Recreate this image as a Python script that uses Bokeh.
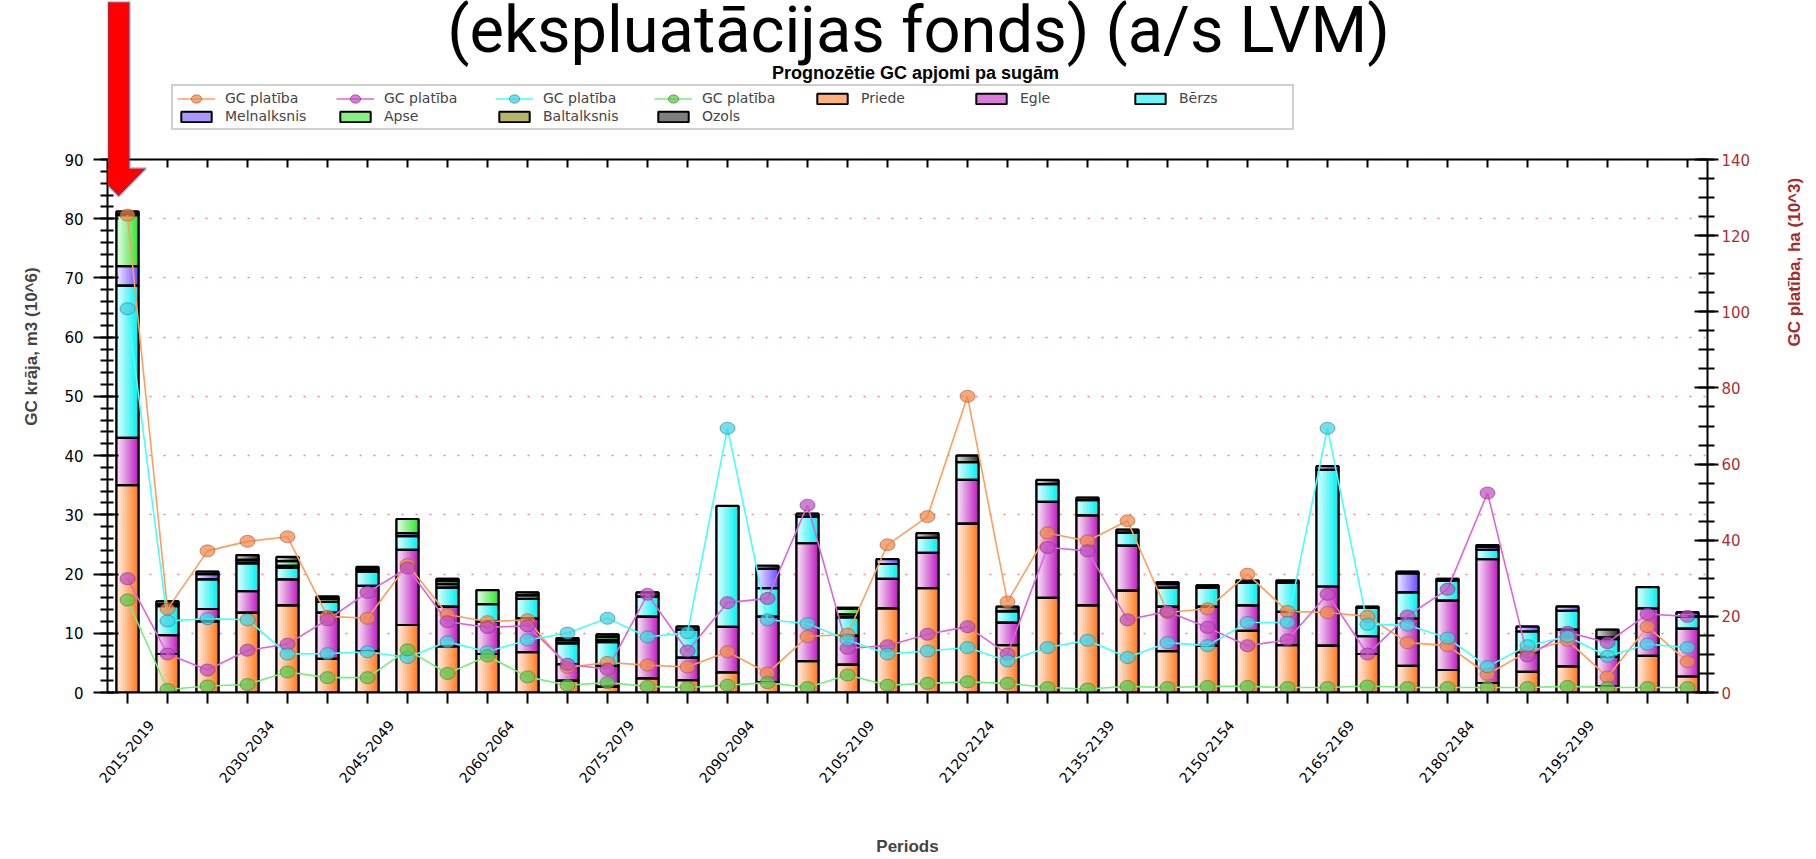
import math
import numpy as np
import pandas as pd
from bokeh.plotting import figure
from bokeh.models import (ColumnDataSource, Range1d, LinearAxis, SingleIntervalTicker,
                          FixedTicker, Legend, LegendItem, Label, PolyAnnotation)
from bokeh.transform import dodge
from bokeh.core.properties import value
from bokeh.embed import file_html
from bokeh.resources import INLINE

# ---------------- data ----------------
periods = [
    "2015-2019", "2020-2024", "2025-2029", "2030-2034", "2035-2039",
    "2040-2044", "2045-2049", "2050-2054", "2055-2059", "2060-2064",
    "2065-2069", "2070-2074", "2075-2079", "2080-2084", "2085-2089",
    "2090-2094", "2095-2099", "2100-2104", "2105-2109", "2110-2114",
    "2115-2119", "2120-2124", "2125-2129", "2130-2134", "2135-2139",
    "2140-2144", "2145-2149", "2150-2154", "2155-2159", "2160-2164",
    "2165-2169", "2170-2174", "2175-2179", "2180-2184", "2185-2189",
    "2190-2194", "2195-2199", "2200-2204", "2205-2209", "2210-2214",
]
shown_labels = ["2015-2019", "2030-2034", "2045-2049", "2060-2064", "2075-2079",
                "2090-2094", "2105-2109", "2120-2124", "2135-2139", "2150-2154",
                "2165-2169", "2180-2184", "2195-2199", "2210-2214"]

# GC krāja, m3 (10^6) by species
priede = [35.0, 6.5, 12.0, 13.5, 14.7, 5.7, 7.0, 11.4, 7.8, 6.5,
          6.8, 2.0, 1.0, 2.4, 2.1, 3.4, 1.7, 5.3, 4.7, 14.2,
          17.6, 28.5, 8.0, 16.0, 14.7, 17.2, 7.0, 7.9, 10.4, 8.0,
          7.9, 6.5, 4.5, 3.8, 1.6, 3.5, 4.4, 1.1, 6.2, 2.7]
egle = [8.0, 3.2, 2.1, 3.6, 4.4, 7.8, 11.0, 12.7, 6.7, 5.5,
        5.7, 2.8, 3.5, 10.4, 3.8, 7.7, 11.1, 19.9, 4.9, 5.0,
        6.0, 7.4, 3.8, 16.2, 15.2, 7.6, 7.5, 6.6, 4.3, 5.6,
        10.0, 3.0, 8.0, 11.7, 20.9, 3.3, 6.2, 4.9, 8.0, 8.1]
berzs = [25.7, 4.9, 5.0, 4.7, 2.0, 1.8, 2.4, 2.3, 3.2, 2.9,
         3.3, 3.5, 4.0, 3.4, 4.7, 20.4, 4.8, 4.5, 3.1, 2.5,
         2.5, 3.0, 1.9, 3.0, 2.6, 2.2, 3.2, 3.2, 3.8, 4.9,
         19.7, 4.8, 4.4, 3.4, 1.6, 3.5, 3.2, 3.0, 3.6, 2.0]
melnalksnis = [3.3, 0.3, 0.9, 0.5, 0.3, 0.0, 0.0, 0.5, 0.6, 0.0,
               0.0, 0.5, 0.4, 0.0, 0.5, 0.0, 3.3, 0.0, 0.5, 0.8,
               0.0, 0.0, 0.0, 0.0, 0.0, 0.0, 0.6, 0.0, 0.0, 0.0,
               0.6, 0.0, 3.2, 0.0, 0.5, 0.8, 0.7, 0.3, 0.0, 0.7]
apse = [8.6, 0.0, 0.0, 0.0, 0.8, 0.5, 0.4, 2.4, 0.5, 2.4,
        0.6, 0.0, 0.5, 0.0, 0.0, 0.0, 0.0, 0.0, 0.9, 0.0,
        0.0, 0.0, 0.0, 0.0, 0.0, 0.0, 0.0, 0.0, 0.0, 0.0,
        0.0, 0.0, 0.0, 0.0, 0.0, 0.0, 0.0, 0.0, 0.0, 0.0]
baltalksnis = [0.2, 0.0, 0.0, 0.1, 0.0, 0.0, 0.0, 0.0, 0.0, 0.0,
               0.0, 0.0, 0.0, 0.0, 0.0, 0.0, 0.0, 0.0, 0.0, 0.0,
               0.0, 0.0, 0.0, 0.0, 0.0, 0.0, 0.0, 0.0, 0.0, 0.0,
               0.0, 0.0, 0.0, 0.0, 0.0, 0.0, 0.0, 0.0, 0.0, 0.0]
ozols = [0.4, 0.5, 0.4, 0.8, 0.7, 0.4, 0.4, 0.0, 0.4, 0.0,
         0.5, 0.4, 0.4, 0.7, 0.0, 0.0, 0.5, 0.5, 0.2, 0.0,
         0.8, 1.1, 0.8, 0.7, 0.4, 0.5, 0.3, 0.4, 0.4, 0.4,
         0.0, 0.2, 0.3, 0.3, 0.3, 0.0, 0.0, 1.3, 0.0, 0.0]

# GC platība, ha (10^3)
platiba_priede = [125.4, 21.9, 37.2, 39.7, 40.9, 20.0, 19.5, 33.6, 20.5, 18.6,
                  19.1, 6.6, 7.9, 7.2, 6.7, 10.7, 5.1, 14.7, 15.3, 38.8,
                  46.2, 77.8, 23.8, 41.9, 39.8, 45.1, 21.0, 22.0, 31.1, 21.3,
                  21.0, 20.0, 13.1, 12.3, 4.8, 10.7, 13.7, 4.1, 17.3, 8.1]
platiba_egle = [29.9, 10.1, 5.9, 11.1, 12.7, 19.1, 26.3, 32.7, 18.6, 17.1,
                17.5, 7.4, 6.1, 25.8, 10.9, 23.6, 24.7, 49.2, 11.6, 12.3,
                15.3, 17.3, 10.1, 38.1, 37.2, 19.1, 21.3, 17.1, 12.3, 13.8,
                25.8, 10.1, 20.1, 27.1, 52.4, 9.6, 15.8, 13.1, 20.6, 20.0]
platiba_berzs = [100.8, 18.8, 19.4, 19.1, 10.1, 10.2, 10.7, 9.2, 13.3, 10.7,
                 13.8, 15.6, 19.5, 14.6, 15.7, 69.4, 19.1, 18.1, 13.8, 10.1,
                 10.9, 11.8, 8.3, 11.8, 13.7, 9.2, 13.1, 12.3, 18.4, 18.4,
                 69.4, 17.9, 17.7, 14.3, 6.8, 12.3, 14.7, 9.5, 12.7, 11.8]
platiba_apse = [24.3, 0.8, 1.7, 2.1, 5.4, 3.9, 3.9, 11.2, 5.0, 9.6,
                4.1, 1.9, 2.6, 1.6, 1.3, 1.9, 2.6, 1.3, 4.6, 1.9,
                2.4, 2.8, 2.4, 1.3, 0.9, 1.6, 1.3, 1.6, 1.6, 1.3,
                1.3, 1.7, 1.3, 1.3, 1.3, 1.3, 1.6, 1.3, 1.3, 1.3]

species = ["Priede", "Egle", "Bērzs", "Melnalksnis", "Apse", "Baltalksnis", "Ozols"]
species_values = [priede, egle, berzs, melnalksnis, apse, baltalksnis, ozols]

# ---------------- styles ----------------
GRAD = {  # (left/light, right/saturated)
    "Priede": ("#fff5ee", "#ff7a1e"),
    "Egle": ("#fcf0fc", "#c01cc0"),
    "Bērzs": ("#eaffff", "#00f0f0"),
    "Melnalksnis": ("#f4f2ff", "#6f4cff"),
    "Apse": ("#efffef", "#2ee62e"),
    "Baltalksnis": ("#fffff2", "#767600"),
    "Ozols": ("#e6e6e6", "#2a2a2a"),
}
N_STRIPS = 10
BAR_W = 0.55
FONT = "DejaVu Sans"
TFONT = "Liberation Sans"

W, H = 1816, 859
FRAME_L, FRAME_R, FRAME_B = 107, 103, 167    # borders (px)
FRAME_H = H - FRAME_B                         # frame spans the full height above the x axis
AXIS_TOP_PX = 159                             # where the chart's top border sits (px from top)
LEFT_MAX, RIGHT_MAX = 90, 140
scale_up = FRAME_H / (FRAME_H - AXIS_TOP_PX)


def _rgb(h):
    return tuple(int(h[i:i + 2], 16) for i in (1, 3, 5))


def mix(a, b, t):
    ra, rb = _rgb(a), _rgb(b)
    return "#%02x%02x%02x" % tuple(int(round(x + (y - x) * t)) for x, y in zip(ra, rb))


# category slot of each period on a numeric axis (centre of slot i is i + 0.5)
slot = {per: i + 0.5 for i, per in enumerate(periods)}

rows = []
cum = np.zeros(len(periods))
for name, vals in zip(species, species_values):
    v = np.array(vals, dtype=float)
    lo, hi = GRAD[name]
    for i, per in enumerate(periods):
        r = dict(period=per, x=slot[per], species=name, bottom=cum[i], top=cum[i] + v[i],
                 val=v[i], mid=mix(lo, hi, 0.55))
        for k in range(N_STRIPS):
            r[f"c{k}"] = mix(lo, hi, (k + 0.5) / N_STRIPS)
        rows.append(r)
    cum = cum + v
df = pd.DataFrame(rows)
src_all = ColumnDataSource(df)
src_nz = ColumnDataSource(df[df["val"] > 0].reset_index(drop=True))

lines_src = ColumnDataSource(dict(period=periods, x=[slot[s] for s in periods],
                                  priede=platiba_priede, egle=platiba_egle,
                                  berzs=platiba_berzs, apse=platiba_apse))

# ---------------- figure ----------------
p = figure(width=W, height=H, x_range=Range1d(0, len(periods)),
           y_range=Range1d(0, LEFT_MAX * scale_up),
           output_backend="svg", toolbar_location=None, title=None,
           min_border_left=FRAME_L, min_border_right=FRAME_R, min_border_top=0,
           min_border_bottom=FRAME_B, background_fill_color="white", border_fill_color="white")
p.extra_y_ranges = {"ha": Range1d(0, RIGHT_MAX * scale_up)}
p.extra_x_ranges = {"lab": Range1d(-1.1, len(periods) - 1.1)}
p.outline_line_color = None

# grid
p.xgrid.grid_line_color = None
p.ygrid.grid_line_color = "#d98c8c"
p.ygrid.grid_line_dash = "2 12"
p.ygrid.grid_line_width = 1.5
p.ygrid.bounds = (0, LEFT_MAX)

# left axis
ya = p.yaxis[0]
ya.ticker = SingleIntervalTicker(interval=10, num_minor_ticks=5)
ya.bounds = (0, LEFT_MAX)
ya.axis_label = "GC krāja, m3 (10^6)"
ya.axis_label_text_font = TFONT
ya.axis_label_text_font_size = "17px"
ya.axis_label_text_font_style = "bold"
ya.axis_label_standoff = 20
ya.major_label_text_font = FONT
ya.major_label_text_font_size = "15px"
ya.major_label_text_color = "black"
ya.major_label_standoff = 10
ya.major_tick_in = 11
ya.major_tick_out = 14
ya.minor_tick_in = 6
ya.minor_tick_out = 7
ya.axis_line_width = 2
ya.major_tick_line_width = 2
ya.minor_tick_line_width = 2

# right axis
ra = LinearAxis(y_range_name="ha", ticker=SingleIntervalTicker(interval=20, num_minor_ticks=4),
                bounds=(0, RIGHT_MAX))
ra.axis_label = "GC platība, ha (10^3)"
ra.axis_label_orientation = math.pi / 2
ra.axis_label_text_font = TFONT
ra.axis_label_text_font_size = "17px"
ra.axis_label_text_font_style = "bold"
ra.axis_label_text_color = "#a52a2a"
ra.axis_label_standoff = 41
ra.major_label_text_font = FONT
ra.major_label_text_font_size = "15px"
ra.major_label_text_color = "#a83232"
ra.major_label_standoff = 3
ra.major_tick_in = 13
ra.major_tick_out = 11
ra.minor_tick_in = 9
ra.minor_tick_out = 7
ra.axis_line_width = 2
ra.major_tick_line_width = 2
ra.minor_tick_line_width = 2
p.add_layout(ra, "right")

# bottom axis: one (unlabelled) tick per period
slot_ticks = [slot[s] for s in periods]
xa = p.xaxis[0]
xa.ticker = FixedTicker(ticks=[], minor_ticks=slot_ticks)
xa.minor_tick_in = 0
xa.minor_tick_out = 11
xa.minor_tick_line_width = 2
xa.minor_tick_line_color = "black"
xa.axis_line_width = 2

# top border of the chart with inward ticks
ta = LinearAxis(ticker=FixedTicker(ticks=[], minor_ticks=slot_ticks), fixed_location=LEFT_MAX,
                minor_tick_in=8, minor_tick_out=0, minor_tick_line_width=2,
                minor_tick_line_color="black", axis_line_width=2)
p.add_layout(ta, "above")

# rotated period labels, centred under their ticks
lab_ticks = [periods.index(s) for s in shown_labels]
la = LinearAxis(x_range_name="lab", ticker=FixedTicker(ticks=lab_ticks, minor_ticks=[]),
                major_label_overrides={t: s for t, s in zip(lab_ticks, shown_labels)})
la.major_label_orientation = 0.87
la.axis_line_color = None
la.major_tick_line_color = None
la.minor_tick_line_color = None
la.major_tick_in = 0
la.major_tick_out = 0
la.major_label_standoff = 19
la.major_label_text_font = FONT
la.major_label_text_font_size = "14px"
la.major_label_text_color = "black"
la.axis_label = "Periods"
la.axis_label_text_font = TFONT
la.axis_label_text_font_size = "17px"
la.axis_label_text_font_style = "bold"
la.axis_label_standoff = 47
p.add_layout(la, "below")

# ---------------- bars ----------------
base = p.vbar(x="x", bottom="bottom", top="top", width=BAR_W, source=src_all,
              fill_color="mid", line_color="black", line_width=2)
for k in range(N_STRIPS):
    off = -BAR_W / 2 + (k + 0.5) * BAR_W / N_STRIPS
    p.vbar(x=dodge("x", off), bottom="bottom", top="top",
           width=BAR_W / N_STRIPS, source=src_nz, fill_color=f"c{k}", line_color=f"c{k}",
           line_width=0.7)
p.vbar(x="x", bottom="bottom", top="top", width=BAR_W, source=src_nz,
       fill_alpha=0, line_color="black", line_width=2.2)

# ---------------- lines ----------------
LINE_STYLE = [
    ("priede", "#ff9d5c", "#f2874a", "#8a5030"),
    ("egle", "#dd66dd", "#c24ec2", "#6a2a6a"),
    ("berzs", "#46ffff", "#3fd3e3", "#2a6f7a"),
    ("apse", "#78ee78", "#5cc64a", "#386f2c"),
]
line_rs, mark_rs = [], []
for col, lc, fc, oc in LINE_STYLE:
    line_rs.append(p.line("x", col, source=lines_src, y_range_name="ha",
                          line_color=lc, line_width=1.6))
for col, lc, fc, oc in LINE_STYLE:
    mark_rs.append(p.ellipse("x", col, width=15, height=12, width_units="screen",
                             height_units="screen", source=lines_src, y_range_name="ha",
                             fill_color=fc, fill_alpha=0.72, line_color=oc, line_alpha=0.55,
                             line_width=1))

# ---------------- legend ----------------
items = [LegendItem(label=value("GC platība"), renderers=[l, m]) for l, m in zip(line_rs, mark_rs)]
for name in species:
    idx = int(df.index[(df["species"] == name) & (df["period"] == periods[0])][0])
    items.append(LegendItem(label=value(name), renderers=[base], index=idx))
legend = Legend(items=items, location=(64, FRAME_H - 130), orientation="horizontal", ncols=7,
                glyph_width=38, glyph_height=13, label_standoff=10, label_width=109,
                label_height=14, spacing=2, padding=4, margin=0,
                border_line_color="#a0a0a0", border_line_width=2,
                background_fill_color="white", background_fill_alpha=1.0,
                label_text_font=FONT, label_text_font_size="14px")
p.add_layout(legend)

# ---------------- titles ----------------
p.add_layout(Label(x=808, y=FRAME_H - 72, x_units="screen", y_units="screen",
                   text="Prognozētie GC apjomi pa sugām", text_align="center",
                   text_baseline="middle", text_font=TFONT, text_font_size="18px",
                   text_font_style="bold", text_color="black"))
p.add_layout(Label(x=811, y=FRAME_H - 29, x_units="screen", y_units="screen",
                   text="(ekspluatācijas fonds) (a/s LVM)", text_align="center",
                   text_baseline="alphabetic", text_font="Roboto", text_font_size="65px",
                   text_color="black"))

# ---------------- arrow pointing at the first period ----------------
first_total = sum(v[0] for v in species_values)
ax0 = slot[periods[0]] - 0.22
tip = first_total + 2.6
head = tip + 4.7
top_y = LEFT_MAX * scale_up - 0.3
p.add_layout(PolyAnnotation(
    xs=[ax0 - 0.27, ax0 + 0.27, ax0 + 0.27, ax0 + 0.68, ax0, ax0 - 0.68, ax0 - 0.27],
    ys=[top_y, top_y, head, head, tip, head, head],
    fill_color="#ff0000", fill_alpha=1.0, line_color="#2f5597", line_width=3))

open("out.html", "w").write(file_html(p, INLINE))
